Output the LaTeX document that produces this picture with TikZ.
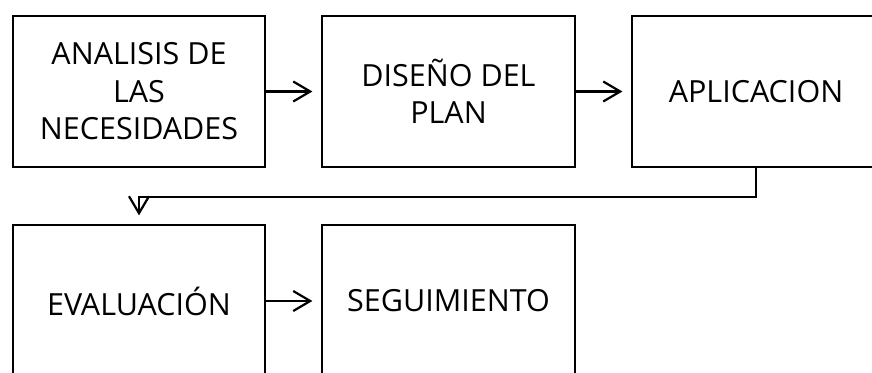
\documentclass[tikz,border=0pt]{standalone}
\usepackage{fontspec}
\setmainfont{Open Sans}
\usetikzlibrary{arrows.meta}
\tikzset{
  boxnode/.style={draw=black, line width=2.2pt, inner sep=0pt, align=center,
    font=\fontsize{30.5}{37.5}\selectfont},
  flowarrow/.style={line width=2.2pt, -{Straight Barb[length=17pt,width=20pt]}, shorten >=8.5pt}
}
\begin{document}
\begin{tikzpicture}[x=1pt,y=-1pt]
\clip (0,0) rectangle (872,372);
\fill[white] (0,0) rectangle (872,372);
\node[boxnode, minimum width=252.5pt, minimum height=151pt] (b1) at (139,91.5) {ANALISIS DE\\LAS\\NECESIDADES};
\node[boxnode, minimum width=253pt, minimum height=151pt] (b2) at (448.5,91.5) {DISEÑO DEL\\PLAN};
\node[boxnode, minimum width=248pt, minimum height=151pt] (b3) at (756,91.5) {APLICACION};
\node[boxnode, minimum width=252.5pt, minimum height=152pt] (b4) at (139,301) {EVALUACIÓN};
\node[boxnode, minimum width=253pt, minimum height=152pt] (b5) at (448.5,301) {SEGUIMIENTO};
\draw[flowarrow] (b1.east) -- (b2.west);
\draw[flowarrow] (b2.east) -- (b3.west);
\draw[flowarrow] (b4.east) -- (b5.west);
\draw[flowarrow] (b3.south) -- ++(0,29) -| (b4.north);
\end{tikzpicture}
\end{document}
